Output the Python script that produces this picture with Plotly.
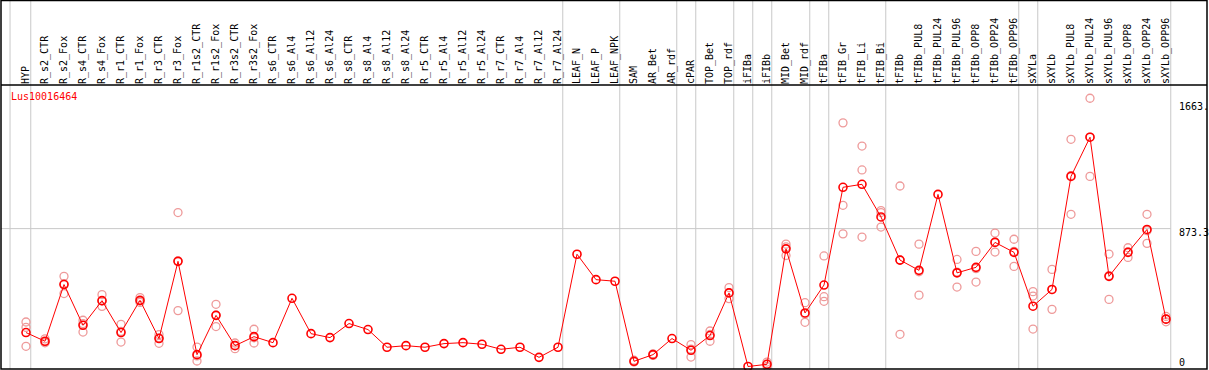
import plotly.graph_objects as go

gene = "Lus10016464"

categories = [
    "HYP", "R_s2_CTR", "R_s2_Fox", "R_s4_CTR", "R_s4_Fox", "R_r1_CTR", "R_r1_Fox",
    "R_r3_CTR", "R_r3_Fox", "R_r1s2_CTR", "R_r1s2_Fox", "R_r3s2_CTR", "R_r3s2_Fox",
    "R_s6_CTR", "R_s6_Al4", "R_s6_Al12", "R_s6_Al24", "R_s8_CTR", "R_s8_Al4",
    "R_s8_Al12", "R_s8_Al24", "R_r5_CTR", "R_r5_Al4", "R_r5_Al12", "R_r5_Al24",
    "R_r7_CTR", "R_r7_Al4", "R_r7_Al12", "R_r7_Al24", "LEAF_N", "LEAF_P", "LEAF_NPK",
    "SAM", "AR_Bet", "AR_rdf", "cPAR", "TOP_Bet", "TOP_rdf", "iFIBa", "iFIBb",
    "MID_Bet", "MID_rdf", "tFIBa", "tFIB_Gr", "tFIB_Li", "tFIB_Bi", "tFIBb",
    "tFIBb_PUL8", "tFIBb_PUL24", "tFIBb_PUL96", "tFIBb_OPP8", "tFIBb_OPP24",
    "tFIBb_OPP96", "sXYLa", "sXYLb", "sXYLb_PUL8", "sXYLb_PUL24", "sXYLb_PUL96",
    "sXYLb_OPP8", "sXYLb_OPP24", "sXYLb_OPP96",
]

means = [
    215, 160, 519, 261, 417, 215, 419, 177, 666, 75, 324, 132, 189,
    151, 432, 208, 183, 272, 234, 122, 132, 122, 145, 151, 141, 109, 122, 58, 122,
    711, 550, 540, 33, 75, 177, 103, 196, 466, 0, 14, 745, 339, 516,
    1135, 1154, 947, 674, 609, 1090, 593, 628, 786, 723,
    382, 488, 1204, 1452, 571, 723, 868, 300,
]

N = None
rep_a = [282, 175, 571, 293, 455, 267, 436, 202, 975, 123, 394, 149, 236,
         N, N, N, N, N, N, N, N, N, N, N, N, N, N, N, N, N, N, N,
         40, 80, N, 139, 225, 500, N, 28, 775, 404, 700, 1543, 1396, 987, 1143,
         775, N, 678, 729, 845, 806, 474, 615, 1439, 1699, 712, 752, 964, 317]
rep_b = [248, 155, 462, 218, 381, 155, 415, 147, 354, 35, 253, 113, 149,
         N, N, N, N, N, N, N, N, N, N, N, N, N, N, N, N, N, N, N,
         30, 70, N, 60, 160, 430, N, 0, 703, 280, 442, 1021, 1245, 975, 204,
         452, N, 503, 535, 725, 634, 446, 362, 964, 1204, 425, 691, 780, 283]
rep_c = [128, 150, 524, 272, 415, 223, 406, 182, 669, 67, 325, 134, 182,
         N, N, N, N, N, N, N, N, N, N, N, N, N, N, N, N, N, N, N,
         29, 75, N, 110, 203, 468, N, 14, 757, 333, 413, 840, 820, 883, 675,
         600, N, 598, 620, 788, 729, 237, 487, 1209, 1453, 576, 726, 860, 300]

# index of last category in each group (separators drawn just after them)
group_last = [0, 28, 31, 34, 35, 37, 38, 39, 41, 42, 45, 52, 53, 60]
y_labels = [0, 873.3, 1663]
y_label_text = ["0", "873.3", "1663."]

idx = list(range(len(categories)))

rx, ry = [], []
for reps in (rep_a, rep_b, rep_c):
    for i, v in enumerate(reps):
        if v is not None:
            rx.append(i)
            ry.append(v)

fig = go.Figure()
fig.add_trace(go.Scatter(
    x=rx, y=ry, mode="markers", cliponaxis=False,
    marker=dict(symbol="circle-open", size=8, color="#ee9a9a", line=dict(width=1.3)),
    hoverinfo="skip", showlegend=False,
))
fig.add_trace(go.Scatter(
    x=idx, y=means, mode="lines+markers", cliponaxis=False,
    line=dict(color="#ff0000", width=1),
    marker=dict(symbol="circle-open", size=8, color="#ff0000", line=dict(width=1.6)),
    hoverinfo="skip", showlegend=False,
))

W, H = 1209, 370
ml, mr, mt, mb = 1, 2, 85, 1
plot_h = H - mt - mb
top_paper = 1 + (mt - 0.5) / plot_h

xr = [-1.316, 62.158]
yr = [-15.8, 1782.8]

shapes = []
sep_positions = [-0.84] + [g + 0.25 for g in group_last]
for xs in sep_positions:
    shapes.append(dict(type="line", xref="x", yref="paper", x0=xs, x1=xs,
                       y0=0, y1=top_paper, line=dict(color="#c8c8c8", width=1), layer="below"))
shapes.append(dict(type="line", xref="x", yref="y", x0=xr[0], x1=group_last[-1] + 0.25,
                   y0=873.3, y1=873.3, line=dict(color="#c8c8c8", width=1), layer="below"))
# frame
shapes.append(dict(type="rect", xref="paper", yref="paper", x0=0, x1=1, y0=0, y1=top_paper,
                   line=dict(color="black", width=1.5)))
shapes.append(dict(type="line", xref="paper", yref="paper", x0=0, x1=1, y0=1, y1=1,
                   line=dict(color="black", width=1.5)))

mono = "DejaVu Sans Mono"
annotations = [dict(text=gene, xref="paper", yref="paper", x=8 / (W - ml - mr), y=1 - 12 / plot_h,
                    xanchor="left", yanchor="middle", showarrow=False,
                    font=dict(family=mono, size=10, color="#ff0000"))]
shifts = [4, -4, -3]
for v, t, s in zip(y_labels, y_label_text, shifts):
    annotations.append(dict(text=t, xref="paper", yref="y", x=(1177 - ml) / (W - ml - mr), y=v,
                            yshift=s, xanchor="left", yanchor="middle", showarrow=False,
                            font=dict(family=mono, size=10, color="black")))

fig.update_layout(
    width=W, height=H,
    margin=dict(l=ml, r=mr, t=mt, b=mb, pad=0),
    paper_bgcolor="white", plot_bgcolor="white",
    hovermode=False,
    shapes=shapes, annotations=annotations,
    xaxis=dict(range=xr, side="top", tickmode="array", tickvals=idx, ticktext=categories,
               tickangle=-90, tickfont=dict(family=mono, size=10, color="black"),
               showgrid=False, zeroline=False, showline=False, ticks="", fixedrange=True),
    yaxis=dict(range=yr, showticklabels=False, showgrid=False, zeroline=False,
               showline=False, ticks="", fixedrange=True),
)

fig.write_html(
    "out.html",
    config={"displayModeBar": False},
    post_script="document.body.style.margin='0';document.body.style.overflow='hidden';",
)
